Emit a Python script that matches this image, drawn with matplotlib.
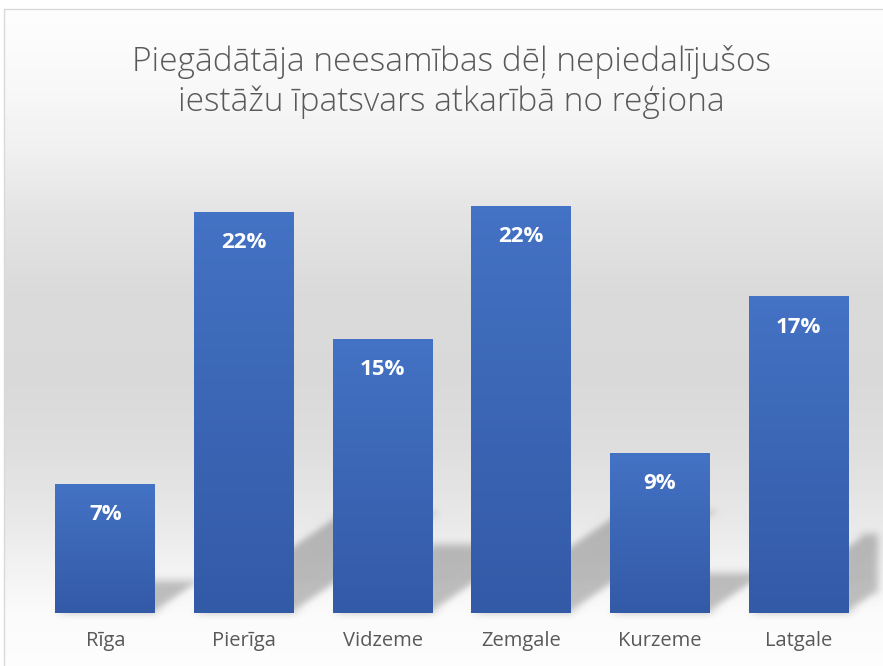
import numpy as np
import matplotlib
matplotlib.use('Agg')
import matplotlib.pyplot as plt
from matplotlib.colors import LinearSegmentedColormap
from matplotlib.patches import Polygon, Rectangle

# =========================
# Data
# =========================
regions = ['Rīga', 'Pierīga', 'Vidzeme', 'Zemgale', 'Kurzeme', 'Latgale']
shares = [7.0, 21.8, 14.9, 22.1, 8.7, 17.2]
title = 'Piegādātāja neesamības dēļ nepiedalījušos\niestāžu īpatsvars atkarībā no reģiona'

W, H = 883, 666
font = ['Open Sans', 'DejaVu Sans']
grey_txt = '#595959'


def blur(im, dpi, sigma=4.0):
    # simple gaussian blur for the shadows (agg_filter)
    pad = int(3 * sigma)
    a = np.pad(im, ((pad, pad), (pad, pad), (0, 0)))
    k = np.exp(-0.5 * (np.arange(-pad, pad + 1) / sigma) ** 2)
    k /= k.sum()
    out = np.zeros_like(a)
    for i, w in enumerate(k):
        out += w * np.roll(a, i - pad, axis=0)
    a = out
    out = np.zeros_like(a)
    for i, w in enumerate(k):
        out += w * np.roll(a, i - pad, axis=1)
    return out, -pad, -pad


fig = plt.figure(figsize=(W / 100, H / 100), dpi=100)
fig.patch.set_facecolor('white')

# =========================
# Background gradient of chart area
# =========================
bg = fig.add_axes([4 / W, 0, 1, 1 - 9 / H])
bg.set_axis_off()
stop_y = [0, 90, 150, 210, 290, 380, 450, 520, 570, 610, 660]
stop_v = [0.995, 0.97, 0.94, 0.895, 0.855, 0.85, 0.87, 0.91, 0.95, 0.98, 0.99]
ys = np.arange(9, H)
col = np.interp(ys, stop_y, stop_v)
bg.imshow(col[:, None], cmap='gray', vmin=0, vmax=1, aspect='auto',
          extent=[0, 1, 0, 1], origin='upper')
bg.set_xlim(0, 1)
bg.set_ylim(0, 1)
fig.add_artist(Rectangle((4 / W, -0.1), 1.1, 1 - 9 / H + 0.1,
                         transform=fig.transFigure, fill=False,
                         edgecolor='#d9d9d9', linewidth=1.0))

# =========================
# Bars
# =========================
ax = fig.add_axes([36 / W, 53 / H, 832 / W, 433 / H])
ax.patch.set_visible(False)
x = np.arange(len(regions))
bars = ax.bar(x, shares, width=0.72, color='none', zorder=3)

cmap = LinearSegmentedColormap.from_list('bar', ['#335aa7', '#4472c4'])
grad = np.linspace(1, 0, 100)[:, None]
clip = Rectangle((4 / W, 0), 874 / W, 1, transform=fig.transFigure)

for b, v in zip(bars, shares):
    x0 = b.get_x()
    x1 = x0 + b.get_width()
    # perspective shadow behind the bar
    h = 0.25 * v
    dx = 0.048 * v
    sh = Polygon([(x0, 0), (x1, 0), (x1 + dx, h), (x0 + dx, h)],
                 closed=True, facecolor='black', edgecolor='none',
                 alpha=0.24, zorder=1)
    ax.add_patch(sh)
    sh.set_clip_path(clip)
    sh.set_agg_filter(blur)
    im = ax.imshow(grad, cmap=cmap, aspect='auto', zorder=2,
                   extent=[x0, x1, 0, v])
    im.set_clip_path(b)
    ax.annotate(f'{v:.0f}%', (b.get_x() + b.get_width() / 2, v),
                xytext=(0, -22), textcoords='offset points',
                ha='center', va='center', color='white',
                fontsize=16, fontweight='bold', family=font, zorder=4)

ax.set_xlim(-0.5, 5.5)
ax.set_ylim(0, 23.53)
ax.set_xticks(x)
ax.set_xticklabels(regions, fontsize=14.5, color=grey_txt, family=font)
ax.tick_params(axis='x', length=0, pad=13)
ax.set_yticks([])
for s in ax.spines.values():
    s.set_visible(False)

# =========================
# Title
# =========================
fig.text(451 / W, 1 - 82 / H, title, ha='center', va='center',
         fontsize=24, color=grey_txt, family=font, fontweight='light',
         linespacing=1.26)

fig.savefig('out.png', dpi=100)
